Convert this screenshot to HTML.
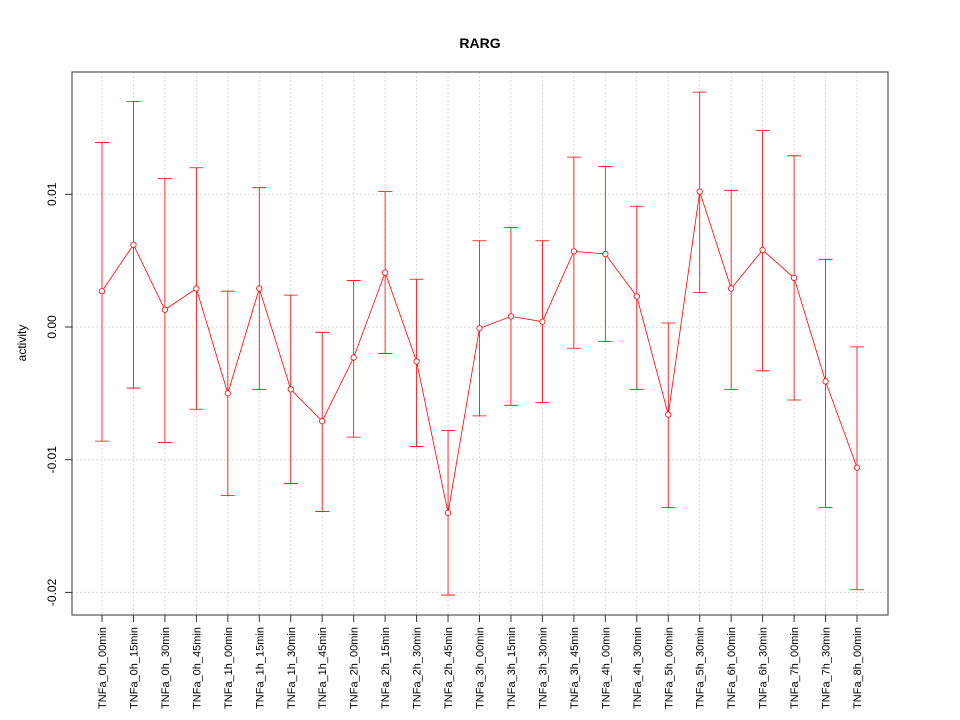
<!DOCTYPE html>
<html><head><meta charset="utf-8"><style>body{margin:0;background:#fff}svg{display:block;font-family:"Liberation Sans",sans-serif}</style></head>
<body>
<svg id="chart" width="960" height="720">
<text x="480" y="48" text-anchor="middle" font-weight="bold" font-size="14">RARG</text>
<text transform="translate(26,343) rotate(-90)" text-anchor="middle" font-size="12">activity</text>
<g id="grid"></g><g id="marks"></g><g id="axes"></g>
<rect x="72" y="72" width="816" height="543" fill="none" stroke="#333"/>
</svg>
<script>
const categories=["TNFa_0h_00min","TNFa_0h_15min","TNFa_0h_30min","TNFa_0h_45min","TNFa_1h_00min","TNFa_1h_15min","TNFa_1h_30min","TNFa_1h_45min","TNFa_2h_00min","TNFa_2h_15min","TNFa_2h_30min","TNFa_2h_45min","TNFa_3h_00min","TNFa_3h_15min","TNFa_3h_30min","TNFa_3h_45min","TNFa_4h_00min","TNFa_4h_30min","TNFa_5h_00min","TNFa_5h_30min","TNFa_6h_00min","TNFa_6h_30min","TNFa_7h_00min","TNFa_7h_30min","TNFa_8h_00min"];
const values=[0.0027,0.0062,0.0013,0.0029,-0.0050,0.0029,-0.0047,-0.0071,-0.0023,0.0041,-0.0026,-0.0140,-0.0001,0.0008,0.0004,0.0057,0.0055,0.0023,-0.0066,0.0102,0.0029,0.0058,0.0037,-0.0041,-0.0106];
const upper=[0.0139,0.0170,0.0112,0.0120,0.0027,0.0105,0.0024,-0.0004,0.0035,0.0102,0.0036,-0.0078,0.0065,0.0075,0.0065,0.0128,0.0121,0.0091,0.0003,0.0177,0.0103,0.0148,0.0129,0.0051,-0.0015];
const lower=[-0.0086,-0.0046,-0.0087,-0.0062,-0.0127,-0.0047,-0.0118,-0.0139,-0.0083,-0.0020,-0.0090,-0.0202,-0.0067,-0.0059,-0.0057,-0.0016,-0.0011,-0.0047,-0.0136,0.0026,-0.0047,-0.0033,-0.0055,-0.0136,-0.0198];
const yTicks=[-0.02,-0.01,0.00,0.01];
const yTickLabels=["-0.02","-0.01","0.00","0.01"];
const NS="http://www.w3.org/2000/svg";
const xS=i=>102+i*(857-102)/(categories.length-1);
const yS=v=>327-v*13270;
function mk(p,t,a){const e=document.createElementNS(NS,t);for(const k in a)e.setAttribute(k,a[k]);p.appendChild(e);return e;}
const grid=document.getElementById('grid'),marks=document.getElementById('marks'),axes=document.getElementById('axes');
categories.forEach((c,i)=>{
 const x=xS(i);
 const g=mk(grid,'line',{x1:x,x2:x,y1:72,y2:615,stroke:'#d8d8d8','stroke-dasharray':'2,2'});
 
 
 const t=mk(axes,'line',{x1:x,x2:x,y1:615,y2:622,stroke:'#333'});
 
 
 const l=mk(axes,'text',{transform:`translate(${x+4},627) rotate(-90)`,'text-anchor':'end','font-size':'11'});
 l.textContent=c;
 
 
});
yTicks.forEach((v,i)=>{
 const y=yS(v);
 const g=mk(grid,'line',{x1:72,x2:888,y1:y,y2:y,stroke:'#d8d8d8','stroke-dasharray':'2,2'});
 
 
 const t=mk(axes,'line',{x1:65,x2:72,y1:y,y2:y,stroke:'#333'});
 
 
 const l=mk(axes,'text',{transform:`translate(56,${y}) rotate(-90)`,'text-anchor':'middle','font-size':'12'});
 l.textContent=yTickLabels[i];
 
 
});
categories.forEach((c,i)=>{
 const x=xS(i),yu=yS(upper[i]),yl=yS(lower[i]);
 const eb=mk(marks,'path',{d:`M${x},${yu}V${yl}M${x-7},${yu}H${x+7}M${x-7},${yl}H${x+7}`,stroke:'#f00',fill:'none','stroke-width':'0.8'});
 
 
});
const ln=mk(marks,'polyline',{points:values.map((v,i)=>xS(i)+','+yS(v)).join(' '),fill:'none',stroke:'#f00','stroke-width':'0.8'});


values.forEach((v,i)=>{
 const p=mk(marks,'circle',{cx:xS(i),cy:yS(v),r:2.7,fill:'#fff',stroke:'#f00','stroke-width':'0.8'});
 
 
});
</script>
</body></html>
